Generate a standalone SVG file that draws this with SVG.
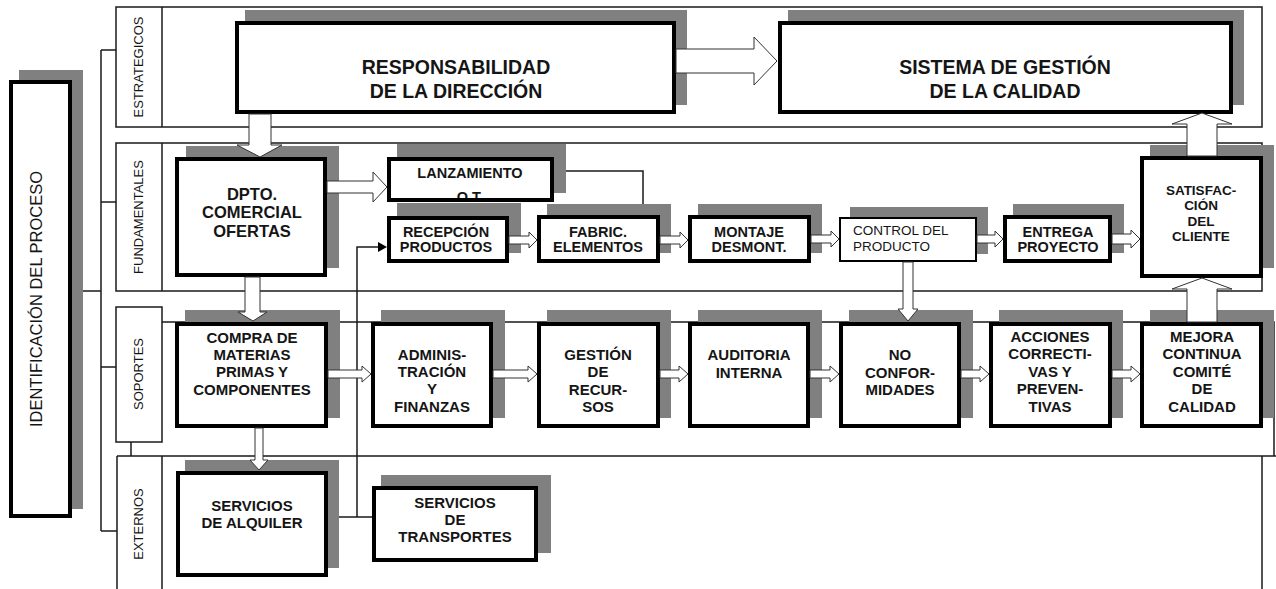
<svg xmlns="http://www.w3.org/2000/svg" width="1276" height="589" viewBox="0 0 1276 589">
<style>
.sh{fill:#808080}
.bx{fill:#fff;stroke:#000;stroke-width:4}
.bt{fill:#fff;stroke:#000;stroke-width:2}
.bs{fill:none;stroke:#000;stroke-width:4}
.ln{fill:none;stroke:#1a1a1a;stroke-width:1.5}
.lf{fill:#fff;stroke:#1a1a1a;stroke-width:1.5}
.ar{fill:#fff;stroke:#333;stroke-width:1}
.t{font-family:"Liberation Sans",Arial,sans-serif;font-weight:bold;fill:#151515;text-anchor:middle}
.big{font-size:19.5px}
.m16{font-size:16.5px}
.m15{font-size:15px}
.m14{font-size:14.5px}
.m13{font-size:13.5px}
.lbl{font-family:"Liberation Sans",Arial,sans-serif;font-size:13px;fill:#151515;text-anchor:middle}
.ctl{font-family:"Liberation Sans",Arial,sans-serif;font-size:13.5px;fill:#151515}
</style>
<rect width="1276" height="589" fill="#fff"/>
<g id="lanes">
  <rect class="lf" x="116" y="7" width="1146" height="120"/>
  <path class="ln" d="M162,7V127"/>
  <rect class="lf" x="116" y="143" width="1146" height="148"/>
  <path class="ln" d="M162,143V291"/>
  <path class="ln" d="M162,322H1274V456M117,456H1276"/>
  <rect class="lf" x="116" y="307" width="46" height="135"/>
  <path class="ln" d="M117,456V589M162,456V589M1262,456V589"/>
  <text class="lbl" transform="translate(143,67) rotate(-90)">ESTRATEGICOS</text>
  <text class="lbl" transform="translate(143,217) rotate(-90)">FUNDAMENTALES</text>
  <text class="lbl" transform="translate(143,374) rotate(-90)">SOPORTES</text>
  <text class="lbl" transform="translate(143,524) rotate(-90)">EXTERNOS</text>
</g>
<g id="connectors">
  <path class="ln" d="M101,50V531M101,50H116M101,202H116M101,367H116M101,531H117M72,291H101M131,442V456"/>
  <path class="ln" d="M554,171H643V207"/>
  <polygon points="638,206 648,206 643,215" fill="#000"/>
  <path class="ln" d="M328,517H372M357,517V247H379"/>
  <polygon points="378,242 378,252 387,247" fill="#000"/>
</g>
<g id="node-identificacion">
  <rect class="sh" x="19" y="70" width="64" height="439"/>
  <rect class="bx" x="11" y="82" width="59" height="434"/>
  <text class="lbl" style="font-size:16.5px" transform="translate(42,299) rotate(-90)">IDENTIFICACIÓN DEL PROCESO</text>
</g>
<g id="node-responsabilidad">
  <rect class="sh" x="245" y="10" width="442" height="95"/>
  <rect class="bx" x="237" y="23" width="437" height="89"/>
  <text class="t big" x="456" y="74">RESPONSABILIDAD</text>
  <text class="t big" x="456" y="98">DE LA DIRECCIÓN</text>
</g>
<g id="node-sistema">
  <rect class="sh" x="788" y="10" width="456" height="95"/>
  <rect class="bx" x="780" y="23" width="451" height="89"/>
  <text class="t big" x="1005" y="74">SISTEMA DE GESTIÓN</text>
  <text class="t big" x="1005" y="98">DE LA CALIDAD</text>
</g>
<g id="node-dpto">
  <rect class="sh" x="186" y="146" width="153" height="122"/>
  <rect class="bx" x="177" y="159" width="148" height="116"/>
  <text class="t m16" x="252" y="200">DPTO.</text>
  <text class="t m16" x="252" y="218">COMERCIAL</text>
  <text class="t m16" x="252" y="237">OFERTAS</text>
</g>
<g id="node-lanzamiento">
  <rect class="sh" x="397" y="144" width="169" height="49"/>
  <rect class="bx" x="389" y="159" width="163" height="41"/>
  <text class="t m14" x="470" y="178">LANZAMIENTO</text>
  <text class="t m14" x="470" y="202">O.T.</text>
  <rect class="bs" x="389" y="159" width="163" height="41"/>
</g>
<g id="node-recepcion">
  <rect class="sh" x="397" y="203" width="124" height="50"/>
  <rect class="bx" x="389" y="218" width="118" height="43"/>
  <text class="t m14" x="446" y="237">RECEPCIÓN</text>
  <text class="t m14" x="446" y="252">PRODUCTOS</text>
</g>
<g id="node-fabric">
  <rect class="sh" x="547" y="204" width="124" height="49"/>
  <rect class="bx" x="539" y="217" width="119" height="44"/>
  <text class="t m14" x="598" y="237">FABRIC.</text>
  <text class="t m14" x="598" y="252">ELEMENTOS</text>
</g>
<g id="node-montaje">
  <rect class="sh" x="698" y="204" width="124" height="49"/>
  <rect class="bx" x="690" y="217" width="119" height="44"/>
  <text class="t m14" x="749" y="237">MONTAJE</text>
  <text class="t m14" x="749" y="252">DESMONT.</text>
</g>
<g id="node-control">
  <rect class="sh" x="850" y="207" width="138" height="47"/>
  <rect class="bt" x="840" y="218" width="136" height="43"/>
  <text class="ctl" x="853" y="235">CONTROL DEL</text>
  <text class="ctl" x="853" y="251">PRODUCTO</text>
</g>
<g id="node-entrega">
  <rect class="sh" x="1013" y="204" width="111" height="49"/>
  <rect class="bx" x="1005" y="217" width="105" height="44"/>
  <text class="t m14" x="1058" y="237">ENTREGA</text>
  <text class="t m14" x="1058" y="252">PROYECTO</text>
</g>
<g id="node-satisfaccion">
  <rect class="sh" x="1150" y="145" width="124" height="123"/>
  <rect class="bx" x="1142" y="158" width="119" height="118"/>
  <text class="t m13" x="1201" y="195">SATISFAC-</text>
  <text class="t m13" x="1201" y="210">CIÓN</text>
  <text class="t m13" x="1201" y="226">DEL</text>
  <text class="t m13" x="1201" y="241">CLIENTE</text>
</g>
<g id="node-compra">
  <rect class="sh" x="185" y="310" width="155" height="108"/>
  <rect class="bx" x="177" y="324" width="149" height="102"/>
  <text class="t m15" x="252" y="343">COMPRA DE</text>
  <text class="t m15" x="252" y="360">MATERIAS</text>
  <text class="t m15" x="252" y="377">PRIMAS Y</text>
  <text class="t m15" x="252" y="395">COMPONENTES</text>
</g>
<g id="node-administracion">
  <rect class="sh" x="381" y="310" width="124" height="108"/>
  <rect class="bx" x="373" y="324" width="118" height="102"/>
  <text class="t m15" x="432" y="360">ADMINIS-</text>
  <text class="t m15" x="432" y="377">TRACIÓN</text>
  <text class="t m15" x="432" y="394">Y</text>
  <text class="t m15" x="432" y="412">FINANZAS</text>
</g>
<g id="node-gestion">
  <rect class="sh" x="547" y="310" width="124" height="108"/>
  <rect class="bx" x="539" y="324" width="119" height="102"/>
  <text class="t m15" x="598" y="360">GESTIÓN</text>
  <text class="t m15" x="598" y="377">DE</text>
  <text class="t m15" x="598" y="395">RECUR-</text>
  <text class="t m15" x="598" y="412">SOS</text>
</g>
<g id="node-auditoria">
  <rect class="sh" x="698" y="310" width="124" height="108"/>
  <rect class="bx" x="690" y="324" width="118" height="102"/>
  <text class="t m15" x="749" y="360">AUDITORIA</text>
  <text class="t m15" x="749" y="378">INTERNA</text>
</g>
<g id="node-noconformidades">
  <rect class="sh" x="849" y="310" width="124" height="108"/>
  <rect class="bx" x="841" y="324" width="118" height="102"/>
  <text class="t m15" x="900" y="360">NO</text>
  <text class="t m15" x="900" y="378">CONFOR-</text>
  <text class="t m15" x="900" y="395">MIDADES</text>
</g>
<g id="node-acciones">
  <rect class="sh" x="999" y="310" width="124" height="108"/>
  <rect class="bx" x="991" y="324" width="119" height="102"/>
  <text class="t m15" x="1050" y="342">ACCIONES</text>
  <text class="t m15" x="1050" y="359">CORRECTI-</text>
  <text class="t m15" x="1050" y="377">VAS Y</text>
  <text class="t m15" x="1050" y="394">PREVEN-</text>
  <text class="t m15" x="1050" y="412">TIVAS</text>
</g>
<g id="node-mejora">
  <rect class="sh" x="1150" y="310" width="124" height="108"/>
  <rect class="bx" x="1142" y="324" width="119" height="102"/>
  <text class="t m15" x="1202" y="342">MEJORA</text>
  <text class="t m15" x="1202" y="359">CONTINUA</text>
  <text class="t m15" x="1202" y="377">COMITÉ</text>
  <text class="t m15" x="1202" y="394">DE</text>
  <text class="t m15" x="1202" y="412">CALIDAD</text>
</g>
<g id="node-servicios-alquiler">
  <rect class="sh" x="185" y="460" width="154" height="108"/>
  <rect class="bx" x="178" y="473" width="148" height="102"/>
  <text class="t m15" x="252" y="511">SERVICIOS</text>
  <text class="t m15" x="252" y="528">DE ALQUILER</text>
</g>
<g id="node-servicios-transportes">
  <rect class="sh" x="381" y="475" width="170" height="78"/>
  <rect class="bx" x="374" y="488" width="162" height="72"/>
  <text class="t m15" x="455" y="508">SERVICIOS</text>
  <text class="t m15" x="455" y="525">DE</text>
  <text class="t m15" x="455" y="542">TRANSPORTES</text>
</g>
<g id="block-arrows">
  <path class="ar" d="M676,49H754V37L777,61L754,85V73H676Z"/>
  <path class="ar" d="M249,114V145H237L260,157L282,145H271V114Z"/>
  <path class="ar" d="M327,181H373V172L387,187L373,202V193H327Z"/>
  <path class="ar" d="M509,236H529V232L537,240L529,248V244H509Z"/>
  <path class="ar" d="M660,236H680V232L688,240L680,248V244H660Z"/>
  <path class="ar" d="M811,235H831V231L839,239L831,247V243H811Z"/>
  <path class="ar" d="M977,235H995V231L1003,239L995,247V243H977Z"/>
  <path class="ar" d="M1112,234H1131V230L1140,239L1131,248V244H1112Z"/>
  <path class="ar" d="M245,277V312H238L253,321L267,312H260V277Z"/>
  <path class="ar" d="M903,262V309H898L908,321L918,309H913V262Z"/>
  <path class="ar" d="M255,428V460H250L259,470L268,460H263V428Z"/>
  <path class="ar" d="M1187,156V124H1172L1202,113L1232,124H1217V156Z"/>
  <path class="ar" d="M1187,322V289H1172L1202,278L1232,289H1217V322Z"/>
  <path class="ar" d="M328,370H362V366L371,374L362,382V378H328Z"/>
  <path class="ar" d="M493,370H528V366L537,374L528,382V378H493Z"/>
  <path class="ar" d="M660,370H679V366L688,374L679,382V378H660Z"/>
  <path class="ar" d="M810,370H830V366L839,374L830,382V378H810Z"/>
  <path class="ar" d="M961,370H980V366L989,374L980,382V378H961Z"/>
  <path class="ar" d="M1112,370H1131V366L1140,374L1131,382V378H1112Z"/>
</g>
</svg>
